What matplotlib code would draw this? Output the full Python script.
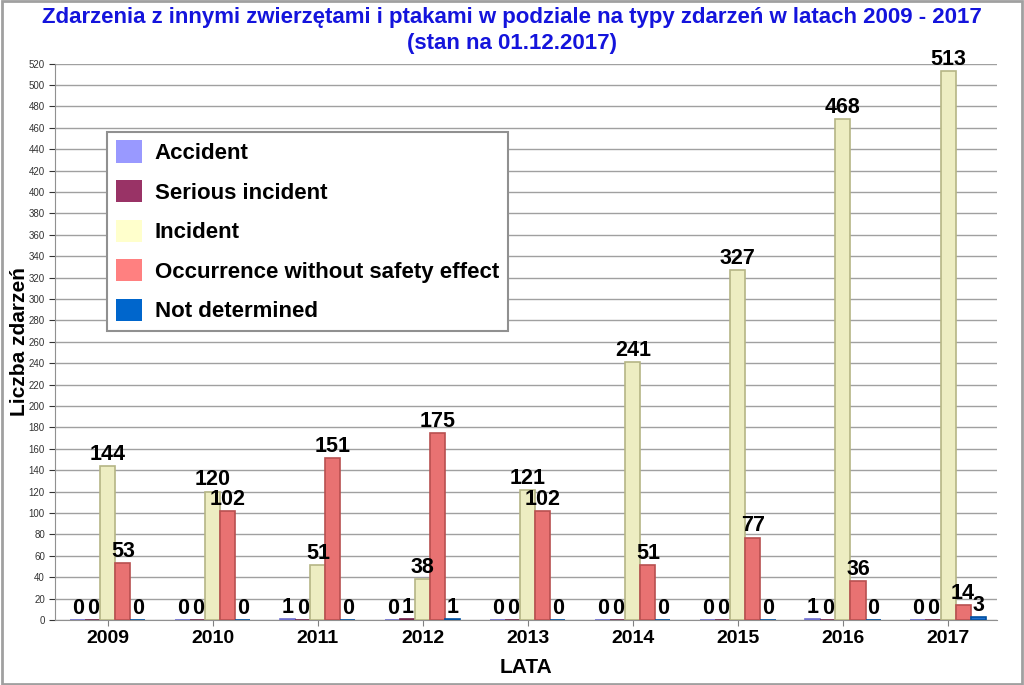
import numpy as np
import matplotlib.pyplot as plt
from matplotlib.patches import Patch, Rectangle

years = ['2009', '2010', '2011', '2012', '2013', '2014', '2015', '2016', '2017']
series_names = ['Accident', 'Serious incident', 'Incident',
                'Occurrence without safety effect', 'Not determined']
accident = [0, 0, 1, 0, 0, 0, 0, 1, 0]
serious = [0, 0, 0, 1, 0, 0, 0, 0, 0]
incident = [144, 120, 51, 38, 121, 241, 327, 468, 513]
occurrence = [53, 102, 151, 175, 102, 51, 77, 36, 14]
not_determined = [0, 0, 0, 1, 0, 0, 0, 0, 3]

legend_colors = ['#9999FF', '#993366', '#FFFFCC', '#FF8080', '#0066CC']
bar_colors = ['#9999FF', '#993366', '#EDEDC2', '#E87272', '#1F6FD0']
edge_colors = ['#7070D0', '#702048', '#B5B585', '#B85050', '#0050A0']

plt.rcParams['font.family'] = ['Liberation Sans', 'DejaVu Sans']

fig = plt.figure(figsize=(10.24, 6.85), dpi=100)
ax = fig.add_axes([0.054, 0.095, 0.92, 0.812])

x = np.arange(len(years))
w = 0.143
data = [accident, serious, incident, occurrence, not_determined]
for i, vals in enumerate(data):
    pos = x + (i - 2) * w
    ax.bar(pos, vals, w, color=bar_colors[i], edgecolor=edge_colors[i],
           linewidth=1.2, zorder=3)
    for px, v in zip(pos, vals):
        ax.text(px, v + 1, str(v), ha='center', va='bottom',
                fontsize=15.5, fontweight='bold', zorder=4)

ax.set_xlim(-0.5, 8.47)
ax.set_ylim(0, 520)
ax.set_yticks(np.arange(0, 521, 20))
ax.set_xticks(x)
ax.set_xticklabels(years, fontsize=14, fontweight='bold')
ax.tick_params(axis='y', labelsize=7, colors='#333333', length=4, width=0.8)
ax.tick_params(axis='x', length=4, width=0.8, color='#808080', pad=3)
ax.grid(axis='y', color='#A0A0A0', linewidth=1, zorder=0)
for s in ['top', 'right']:
    ax.spines[s].set_visible(False)
for s in ['left', 'bottom']:
    ax.spines[s].set_color('#909090')

ax.set_ylabel('Liczba zdarzeń', fontsize=15, fontweight='bold')
ax.yaxis.set_label_coords(-0.028, 0.5)
ax.set_xlabel('LATA', fontsize=15, fontweight='bold', labelpad=8)

# title in two lines, drawn separately
title_kw = dict(ha='center', va='center', fontsize=16, fontweight='bold', color='#1414DC')
fig.text(0.5, 0.975, 'Zdarzenia z innymi zwierzętami i ptakami w podziale na typy zdarzeń w latach 2009 - 2017', **title_kw)
fig.text(0.5, 0.936, '(stan na 01.12.2017)', **title_kw)

handles = [Patch(facecolor=c, edgecolor='none') for c in legend_colors]
leg = ax.legend(handles, series_names, loc='upper left',
                bbox_to_anchor=(0.055, 0.878), prop={'size': 16, 'weight': 'bold'},
                fancybox=False, framealpha=1, edgecolor='#909090',
                handlelength=1.15, handleheight=1.15, labelspacing=0.72,
                borderpad=0.4, handletextpad=0.6, borderaxespad=0)
leg.get_frame().set_linewidth(1.5)

fig.patches.append(Rectangle((0.002, 0.002), 0.996, 0.996, transform=fig.transFigure,
                             fill=False, edgecolor='#A0A0A0', linewidth=2))

fig.savefig('out.png', dpi=100)
